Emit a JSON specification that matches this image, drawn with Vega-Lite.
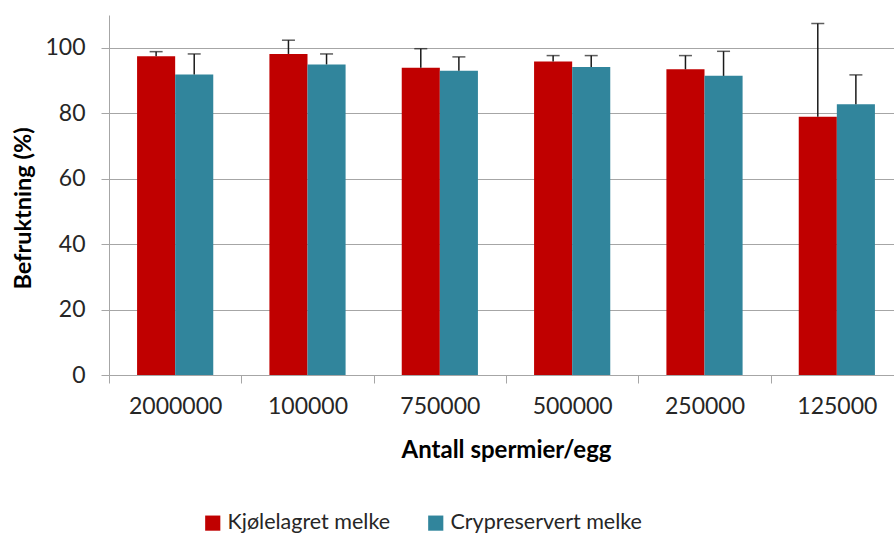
{
  "$schema": "https://vega.github.io/schema/vega-lite/v6.json",
  "width": 785,
  "height": 360,
  "autosize": {"type": "none"},
  "padding": {"left": 109, "top": 15, "right": 0, "bottom": 159},
  "background": "white",
  "config": {
    "view": {"stroke": null},
    "font": "Lato"
  },
  "data": {
    "values": [
      {"group": "2000000", "series": "Kjølelagret melke", "value": 97.4, "upper": 98.8},
      {"group": "2000000", "series": "Crypreservert melke", "value": 91.8, "upper": 98.1},
      {"group": "100000", "series": "Kjølelagret melke", "value": 98.1, "upper": 102.3},
      {"group": "100000", "series": "Crypreservert melke", "value": 94.9, "upper": 98.1},
      {"group": "750000", "series": "Kjølelagret melke", "value": 93.9, "upper": 99.7},
      {"group": "750000", "series": "Crypreservert melke", "value": 93.0, "upper": 97.2},
      {"group": "500000", "series": "Kjølelagret melke", "value": 95.8, "upper": 97.6},
      {"group": "500000", "series": "Crypreservert melke", "value": 94.1, "upper": 97.6},
      {"group": "250000", "series": "Kjølelagret melke", "value": 93.4, "upper": 97.6},
      {"group": "250000", "series": "Crypreservert melke", "value": 91.4, "upper": 98.9},
      {"group": "125000", "series": "Kjølelagret melke", "value": 78.9, "upper": 107.4},
      {"group": "125000", "series": "Crypreservert melke", "value": 82.7, "upper": 91.7}
    ]
  },
  "encoding": {
    "x": {
      "field": "group",
      "type": "nominal",
      "sort": null,
      "scale": {"paddingInner": 0, "paddingOuter": 0, "range": [0, 794]},
      "axis": {
        "title": "Antall spermier/egg",
        "titleFont": "Lato",
        "titleFontSize": 24,
        "titleFontWeight": "bold",
        "titleColor": "#000000",
        "titlePadding": 20,
        "labelAngle": 0,
        "labelFont": "Lato",
        "labelFontSize": 23,
        "labelColor": "#262626",
        "labelPadding": 12,
        "tickBand": "extent",
        "tickSize": 8,
        "tickColor": "#a6a6a6",
        "domainColor": "#a6a6a6",
        "grid": false
      }
    },
    "xOffset": {
      "field": "series",
      "type": "nominal",
      "sort": ["Kjølelagret melke", "Crypreservert melke"],
      "scale": {"paddingInner": 0, "paddingOuter": 0.737}
    }
  },
  "layer": [
    {
      "mark": {"type": "bar"},
      "encoding": {
        "y": {
          "field": "value",
          "type": "quantitative",
          "scale": {"domain": [0, 110], "nice": false},
          "axis": {
            "title": "Befruktning (%)",
            "titleFont": "Lato",
            "titleFontSize": 23.5,
            "titleFontWeight": "bold",
            "titleColor": "#000000",
            "titlePadding": 9,
            "titleY": 193,
            "values": [0, 20, 40, 60, 80, 100],
            "labelFont": "Lato",
            "labelFontSize": 23,
            "labelColor": "#262626",
            "labelPadding": 16,
            "tickSize": 8,
            "tickColor": "#a6a6a6",
            "domainColor": "#a6a6a6",
            "gridColor": "#a6a6a6",
            "gridWidth": 1.2
          }
        },
        "color": {
          "field": "series",
          "type": "nominal",
          "sort": ["Kjølelagret melke", "Crypreservert melke"],
          "scale": {"domain": ["Kjølelagret melke", "Crypreservert melke"], "range": ["#C00000", "#31859C"]},
          "legend": {
            "title": null,
            "orient": "none",
            "legendX": 93,
            "legendY": 497,
            "direction": "horizontal",
            "symbolType": "square",
            "symbolSize": 230,
            "symbolStrokeWidth": 0,
            "labelFont": "Lato",
            "labelFontSize": 21.5,
            "labelColor": "#262626",
            "labelOffset": 4,
            "columnPadding": 34,
            "labelLimit": 300
          }
        }
      }
    },
    {
      "mark": {"type": "rule", "color": "#1a1a1a", "strokeWidth": 1.5},
      "encoding": {
        "y": {"field": "value", "type": "quantitative"},
        "y2": {"field": "upper"}
      }
    },
    {
      "mark": {"type": "tick", "color": "#1a1a1a", "thickness": 1.5, "size": 13, "orient": "horizontal"},
      "encoding": {
        "y": {"field": "upper", "type": "quantitative"}
      }
    }
  ]
}
